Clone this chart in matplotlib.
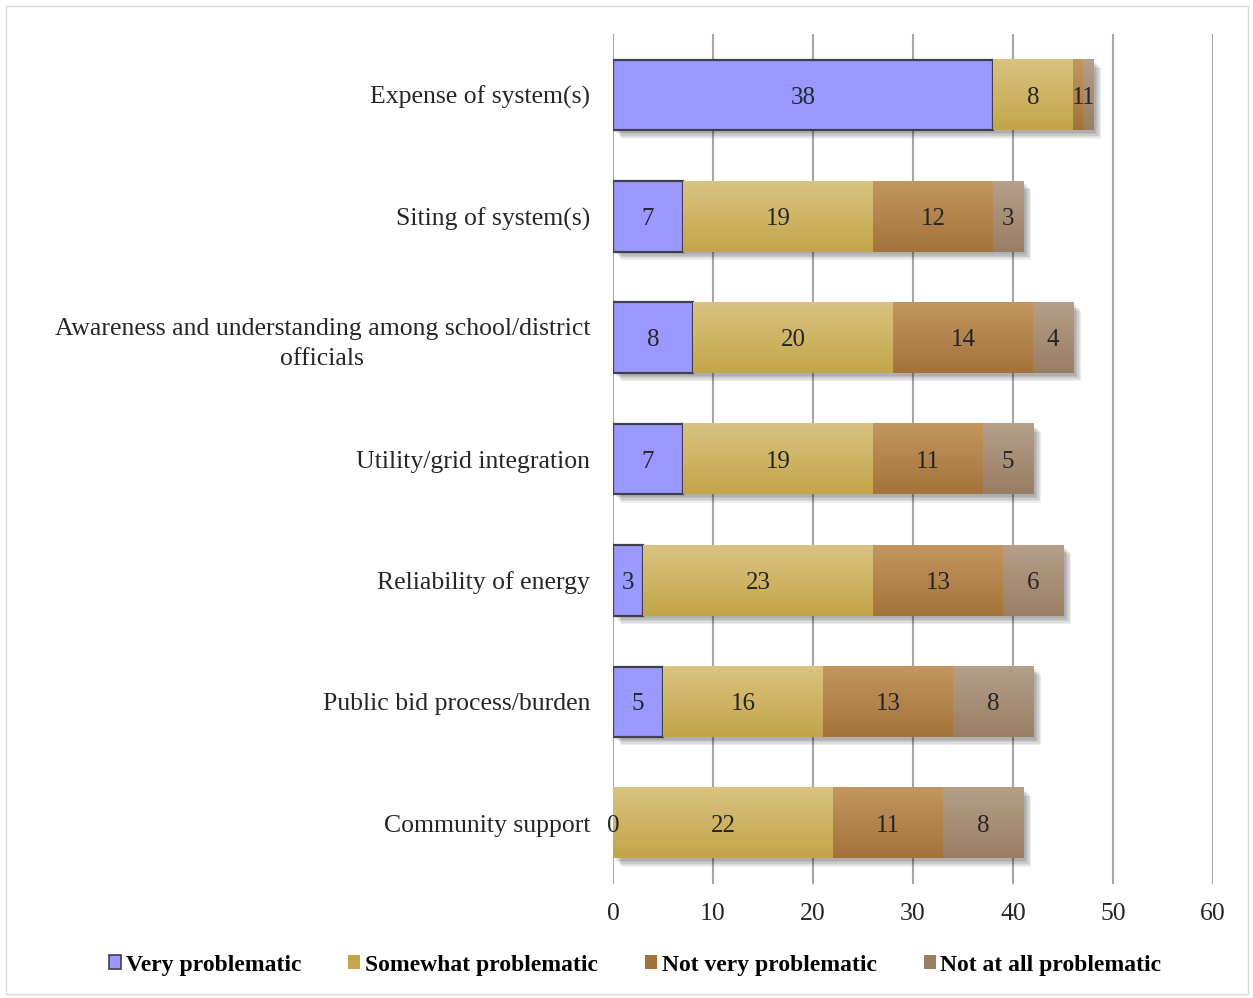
import numpy as np
import matplotlib
matplotlib.use("Agg")
import matplotlib.pyplot as plt
from matplotlib.patches import Patch, Rectangle
from matplotlib.colors import LinearSegmentedColormap
import matplotlib.patheffects as pe

plt.rcParams['font.family'] = ['Liberation Serif', 'DejaVu Serif']

categories = [
    "Expense of system(s)",
    "Siting of system(s)",
    "Awareness and understanding among school/district\nofficials",
    "Utility/grid integration",
    "Reliability of energy",
    "Public bid process/burden",
    "Community support",
]
very = [38, 7, 8, 7, 3, 5, 0]
somewhat = [8, 19, 20, 19, 23, 16, 22]
not_very = [1, 12, 14, 11, 13, 13, 11]
not_at_all = [1, 3, 4, 5, 6, 8, 8]
series_names = ["Very problematic", "Somewhat problematic",
                "Not very problematic", "Not at all problematic"]
x_ticks = [0, 10, 20, 30, 40, 50, 60]

# (top colour, bottom colour) for each series' vertical gradient
grad = [("#9999FF", "#9999FF"),
        ("#D9C380", "#C3A54A"),
        ("#C39660", "#A4733A"),
        ("#B59F89", "#9A7E64")]

fig = plt.figure(figsize=(12.53, 9.98), dpi=100)
fig.patches.append(Rectangle((0.005, 0.004), 0.991, 0.99, transform=fig.transFigure,
                             fill=False, edgecolor="#D9D9D9", linewidth=1.0))
ax = fig.add_axes([0.4892, 0.1145, 0.4789, 0.8511])

y = np.arange(len(categories))
data = [very, somewhat, not_very, not_at_all]
left = np.zeros(len(categories))
bar_h = 0.58
# soft drop shadow built from several faint offset copies
shadow = [pe.SimplePatchShadow(offset=(o, -o), shadow_rgbFace="#000000", alpha=0.07)
          for o in (6, 5, 4, 3, 2)] + [pe.Normal()]

for i, vals in enumerate(data):
    vals = np.array(vals, dtype=float)
    edge = "#3F3F4F" if i == 0 else "none"
    lw = 1.6 if i == 0 else 0
    bars = ax.barh(y, vals, left=left, height=bar_h, color=grad[i][0],
                   edgecolor=edge, linewidth=lw, zorder=3)
    cmap = LinearSegmentedColormap.from_list(f"g{i}", [grad[i][0], grad[i][1]])
    for b, v in zip(bars, vals):
        if v > 0:
            b.set_path_effects(shadow)
            if i > 0:
                x0, yb, w, h = b.get_x(), b.get_y(), b.get_width(), b.get_height()
                ax.imshow(np.linspace(0, 1, 64).reshape(-1, 1), cmap=cmap, aspect="auto",
                          extent=(x0, x0 + w, yb + h, yb), origin="upper", zorder=3.5,
                          interpolation="bilinear")
        ax.text(b.get_x() + b.get_width() / 2, b.get_y() + b.get_height() / 2,
                f"{int(v)}", ha="center", va="center_baseline", fontsize=18,
                color="#262626", zorder=5)
    left += vals

ax.set_xlim(0, 60)
ax.set_ylim(len(categories) - 0.5, -0.5)
ax.set_xticks(x_ticks)
ax.set_yticks(y)
ax.set_yticklabels(categories)
for t in ax.get_yticklabels():
    t.set_multialignment("center")
    t.set_linespacing(1.45)
ax.tick_params(axis="both", length=0, labelsize=18.5, colors="#262626")
ax.tick_params(axis="y", pad=16.5)
ax.tick_params(axis="x", pad=14)
ax.grid(axis="x", color="#A6A6A6", linewidth=1.5, zorder=0)
ax.set_axisbelow(True)
for s in ax.spines.values():
    s.set_visible(False)

handles = [Patch(facecolor=grad[0][0], edgecolor="#3F3F4F", linewidth=1.2)] + \
          [Patch(facecolor=grad[i][1], edgecolor="none") for i in range(1, 4)]
fig.legend(handles, series_names, loc="center", bbox_to_anchor=(0.507, 0.033), ncol=4,
           frameon=False, handlelength=0.5, handleheight=0.5, handletextpad=0.2,
           columnspacing=2.0, prop={"weight": "bold", "size": 17})

fig.savefig("out.png", dpi=100)
